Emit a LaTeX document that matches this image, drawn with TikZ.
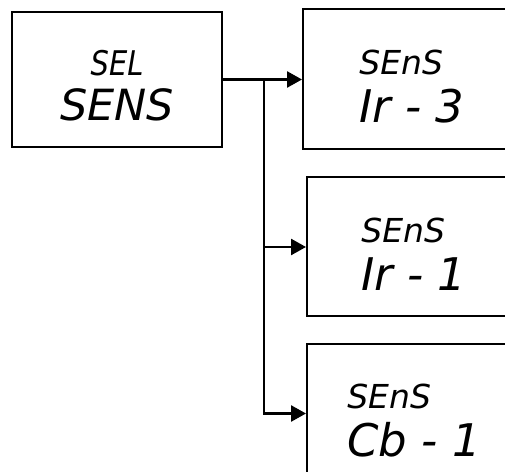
\documentclass[tikz,border=0pt]{standalone}
\usepackage{fontspec}
\newfontfamily\segfont{DejaVu Sans}
\newfontfamily\segnarrow[FakeStretch=0.85]{DejaVu Sans}
\usetikzlibrary{arrows.meta,positioning}

\begin{document}
\begin{tikzpicture}[
    x=1pt, y=1pt,
    display/.style={rectangle, draw, line width=2pt, align=left, text height=87pt,
                    font=\segfont\itshape\fontsize{45}{48}\selectfont},
    arrow/.style={-{Triangle[length=15pt,width=16pt]}, line width=2.5pt}
]
\useasboundingbox (0,0) rectangle (505,471);
\clip (0,0) rectangle (505,471);
\node[display, align=center, minimum width=210pt, minimum height=135pt, text height=83pt,
      font=\segfont\itshape\fontsize{43}{45}\selectfont]
    (sel) at (117,391.5) {{\segnarrow\itshape\fontsize{34}{34}\selectfont SEL}\\SENS};
\node[display, minimum width=218pt, minimum height=140pt, right=79pt of sel]
    (irthree) {{\fontsize{33}{33}\selectfont SEnS}\\Ir - 3};
\node[display, minimum width=214pt, minimum height=139pt, below=26pt of irthree,
      xshift=2pt] (irone) {{\fontsize{33}{33}\selectfont SEnS}\\Ir - 1};
\node[display, minimum width=214pt, minimum height=140pt, below=25pt of irone]
    (cbone) {{\fontsize{33}{33}\selectfont SEnS}\\Cb - 1};
\coordinate[right=41pt of sel.east] (split);
\draw[arrow] (sel.east) -- (irthree.west);
\draw[arrow] (split) |- (irone.west);
\draw[arrow] (split) |- (cbone.west);
\end{tikzpicture}
\end{document}
